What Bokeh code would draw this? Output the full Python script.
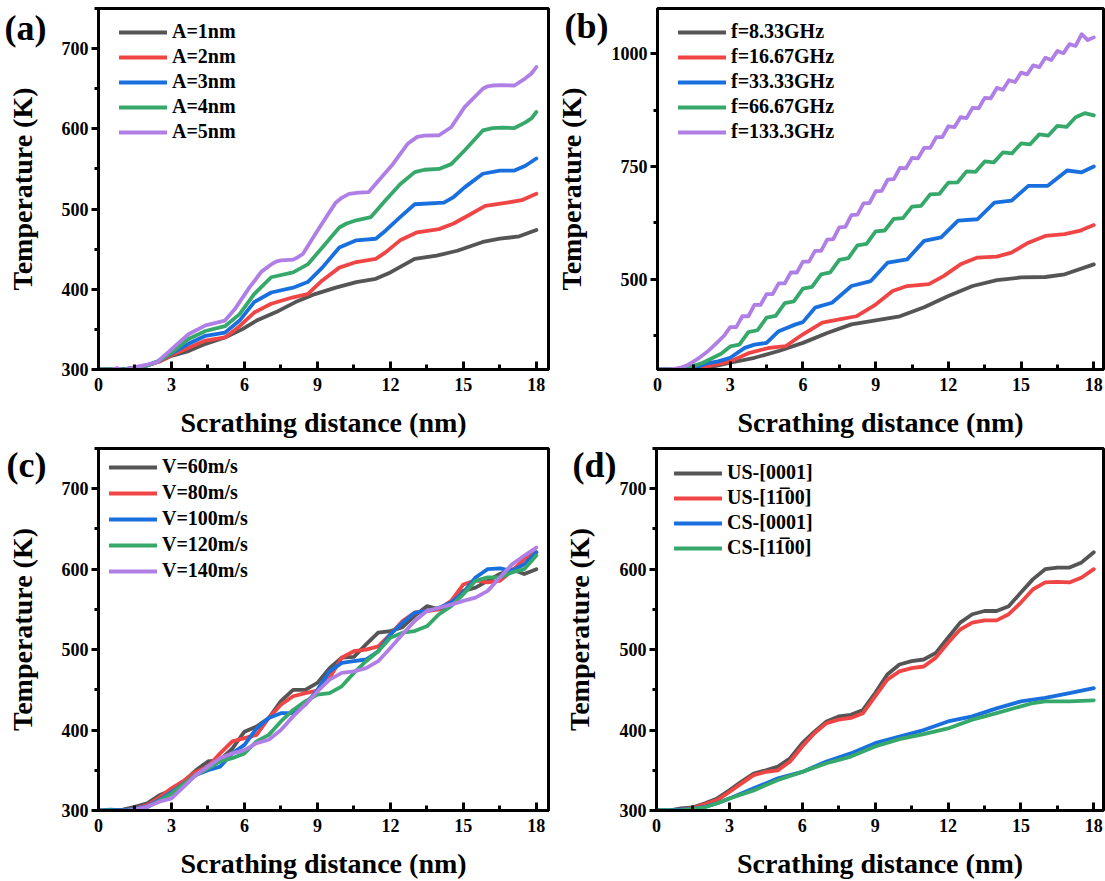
from bokeh.plotting import figure
from bokeh.models import (Range1d, SingleIntervalTicker, FixedTicker, LinearAxis,
                          Legend, LegendItem)
from bokeh.layouts import column, row
from bokeh.embed import file_html
from bokeh.resources import INLINE

FONT = "Liberation Serif"
COLORS = ["#555555", "#f04545", "#1a6fdf", "#36a86a", "#b07fe6"]

X_TITLE = "Scrathing distance (nm)"
Y_TITLE = "Temperature (K)"
TAGS = ["(a)", "(b)", "(c)", "(d)"]

# ---------------- panel (a) ----------------
a_labels = ["A=1nm", "A=2nm", "A=3nm", "A=4nm", "A=5nm"]
a1_x = [0, 1, 1.5, 2, 2.5, 3, 3.7, 4.4, 5.2, 5.9, 6.5, 7.4, 8.1, 8.9, 9.75, 10.6, 11.4, 12.0, 13.0, 13.9, 14.75, 15.8, 16.5, 17.3, 18]
a1_y = [300, 300, 302, 305, 310, 317, 323, 332, 340, 350, 361, 373, 384, 394, 402, 409, 413, 421, 438, 442, 448, 459, 463, 466, 474]
a2_x = [0, 1, 1.5, 2, 2.5, 3, 3.7, 4.4, 5.2, 5.8, 6.4, 7.1, 8.0, 8.6, 9.2, 9.9, 10.6, 11.4, 11.8, 12.4, 13.1, 14.0, 14.6, 15.2, 15.9, 16.8, 17.4, 18]
a2_y = [300, 300, 302, 305, 310, 318, 327, 336, 340, 354, 371, 382, 390, 394, 411, 427, 434, 438, 446, 461, 471, 475, 482, 492, 504, 508, 511, 519]
a3_x = [0, 1, 1.5, 2, 2.5, 3, 3.7, 4.4, 5.2, 5.8, 6.4, 7.1, 8.0, 8.6, 9.2, 9.9, 10.6, 11.4, 11.8, 12.4, 13.0, 14.2, 14.6, 15.05, 15.8, 16.5, 17.1, 17.55, 18]
a3_y = [300, 300, 302, 305, 311, 320, 332, 342, 346, 361, 384, 396, 402, 409, 427, 452, 461, 463, 473, 490, 506, 508, 515, 527, 544, 548, 548, 554, 563]
a4_x = [0, 1, 1.5, 2, 2.5, 3, 3.7, 4.4, 5.2, 5.8, 6.4, 7.1, 8.0, 8.6, 9.2, 9.9, 10.2, 10.6, 11.2, 11.8, 12.4, 13.0, 13.4, 14.0, 14.5, 15.05, 15.8, 16.2, 16.6, 17.1, 17.55, 17.8, 18]
a4_y = [300, 300, 302, 305, 311, 321, 338, 348, 354, 369, 394, 415, 421, 431, 452, 477, 482, 486, 490, 511, 531, 546, 549, 550, 556, 573, 598, 601, 601.5, 601, 608, 613, 621]
a5_x = [0, 0.5, 0.75, 1.0, 1.5, 2.0, 2.4, 3.0, 3.4, 3.7, 4.4, 5.2, 5.6, 6.2, 6.7, 7.1, 7.3, 7.5, 8.0, 8.2, 8.4, 9.0, 9.75, 10.0, 10.3,
        10.7, 11.1, 11.5, 12.1, 12.7, 13.1, 13.4, 14.0, 14.5, 15.05, 15.8, 16.0, 16.2, 16.6, 17.1, 17.55, 17.8, 18]
a5_y = [300, 299, 302, 299, 303, 306, 309, 325, 336, 344, 355, 361, 375, 402, 422, 431, 434.5, 436, 437, 440, 444, 473, 508, 514, 519,
        520.5, 521, 535, 556, 581, 590, 591.5, 592, 602, 627, 650, 653, 654, 654.5, 654, 663, 669, 677]

# ---------------- panel (b) ----------------
b_labels = ["f=8.33GHz", "f=16.67GHz", "f=33.33GHz", "f=66.67GHz", "f=133.3GHz"]
b1_x = [0, 1, 2, 3, 4, 5, 6, 7, 8, 9, 10, 11, 12, 13, 14, 15, 16, 16.8, 18]
b1_y = [300, 300, 303, 315, 326, 341, 359, 381, 400, 409, 418, 438, 463, 485, 498, 504, 505, 511, 533]
b2_x = [0, 1, 1.5, 2, 2.5, 3, 3.8, 4.6, 5.3, 6, 6.8, 7.5, 8.2, 9, 9.7, 10.3, 11.2, 11.8, 12.5, 13.2, 14, 14.6, 15.3, 16, 16.8, 17.4, 18]
b2_y = [300, 300, 301, 307, 312, 318, 337, 348, 352, 378, 404, 411, 418, 444, 474, 485, 489, 507, 533, 548, 550, 559, 581, 596, 600, 607, 620]
b3_x = [0, 1, 1.5, 2, 2.5, 3, 3.6, 4, 4.5, 5, 5.7, 6, 6.5, 7.2, 8, 8.8, 9.5, 10.3, 11, 11.7, 12.4, 13.2, 13.9, 14.6, 15.3, 16.1, 16.9, 17.5, 18]
b3_y = [300, 300, 303, 313, 318, 326, 348, 355, 359, 385, 400, 405, 437, 448, 485, 496, 537, 544, 585, 593, 630, 633, 670, 674, 707, 707, 741, 737, 750]
b4_x = [i * 0.375 for i in range(49)]
b4_y = [300, 300, 301, 304, 308, 315, 325, 335,
        351, 355, 383, 387, 415, 419, 447, 451, 479, 483,
        511, 515, 543, 547, 575, 578.5, 606, 608, 634, 635.5,
        661, 662.5, 688, 689, 714, 714.5, 739, 738, 761, 759,
        781, 779, 801, 799, 821, 818.5, 840, 837.5, 859, 868, 863]
b5_x = [i * 0.25 for i in range(73)]
b5_y = [300, 300, 300, 302, 305, 310, 318, 327, 337, 349, 362, 375,
        394, 394, 418, 418, 443, 443, 467, 467, 491, 491, 515, 515,
        539, 539, 563, 563, 588, 589, 615, 616, 642, 643, 668, 669,
        695, 696, 721, 722, 747, 746, 769, 768, 791, 791, 815, 815,
        839, 837, 859, 857, 880, 879, 902, 901, 924, 920, 941, 937,
        958, 954, 974, 970, 991, 986, 1006, 1001, 1021, 1017, 1043, 1030, 1036]

# ---------------- panel (c) ----------------
c_labels = ["V=60m/s", "V=80m/s", "V=100m/s", "V=120m/s", "V=140m/s"]
c_x = [i * 0.5 for i in range(37)]
c1_y = [300, 300, 301, 304.6, 309, 319, 325, 336, 350, 361, 363, 377, 398, 404.5, 415, 436, 450, 450, 458.6, 477,
        490, 491, 506.5, 521, 523, 528, 542, 554, 550, 556, 573, 577, 585.5, 594, 600, 594, 600]
c2_y = [300, 300, 300, 302, 306.7, 316, 327.5, 337, 348, 354.5, 371, 386, 390, 394, 415, 431.5, 442, 446, 449, 465,
        490, 498, 500, 504, 519, 535.6, 546, 548, 550, 560.6, 581, 586, 583.5, 585.5, 598, 612.6, 621]
c3_y = [300, 301, 300, 302, 305, 313, 323, 333, 344, 350, 354.5, 371, 381.6, 402, 415, 421, 421, 431.5, 450, 473,
        483.5, 485.6, 487.7, 498, 519, 533.5, 546, 548, 552, 558.5, 571, 589.7, 600, 601, 598, 606, 621]
c4_y = [300, 300, 299, 301, 304, 312, 321, 333, 344, 352, 361, 365, 371, 386, 394, 410.7, 425, 435.7, 444, 446,
        454.4, 471, 485.6, 498, 514.8, 521, 523, 529, 544, 554, 569, 585.5, 589.7, 589.7, 596, 600, 617]
c5_y = [300, 299, 299, 301, 304.6, 311, 315, 329.5, 344, 354.5, 365, 371, 375, 383.7, 388, 400, 417, 431.5, 448, 462.7,
        471, 473, 477, 485.6, 502, 519, 535.6, 548, 552, 556, 560.6, 564.7, 573, 589.7, 606, 616.7, 627]

# ---------------- panel (d) ----------------
d_labels = ["US-[0001]", "US-[11\u030500]", "CS-[0001]", "CS-[11\u030500]"]
d_x = [i * 0.5 for i in range(37)]
d1_y = [300, 300, 302.5, 304, 309, 315, 325, 336, 346, 350, 354.5, 365, 383.7, 398, 410.7, 417, 419, 425, 446, 469,
        481.5, 485.6, 487.7, 496, 514.8, 533.5, 544, 548, 548, 554, 571, 587.6, 600, 602, 602, 608.4, 621]
d2_y = [300, 299, 301, 303, 308, 313, 323, 333.7, 344, 348, 350, 361, 379.5, 396, 408.6, 413, 415, 421, 442, 462.7,
        473, 477, 479, 490, 508.5, 525, 533.5, 536.4, 536.4, 544, 558.5, 575, 583.5, 584.3, 583.5, 589.7, 600]
d3_x = [0, 0.5, 1, 1.5, 2, 2.5, 3, 4, 5, 6, 7, 8, 9, 10, 11, 12, 13, 14, 15, 16, 17, 18]
d3_y = [300, 300, 301, 302, 304.6, 309, 315, 327.5, 340, 348, 361, 371, 383.7, 392, 400, 410.7, 417, 427, 435.7, 440, 446, 452]
d4_x = [0, 0.5, 1, 1.5, 2, 2.5, 3, 4, 5, 6, 7, 8, 9, 10, 11, 12, 13, 14, 15, 15.5, 16, 17, 18]
d4_y = [300, 300, 300, 302, 304, 309, 315, 325, 338, 348, 358.7, 367, 379.5, 388.7, 395, 402, 413, 421, 429.5, 433.6, 435.7, 435.7, 437]


def style_text_axis(ax):
    ax.axis_label_text_font = FONT
    ax.axis_label_text_font_size = "28px"
    ax.axis_label_text_font_style = "bold"
    ax.axis_label_text_color = "black"
    ax.major_label_text_color = "black"


def make_panel(width, height, bl, br, bt, bb, xmax, ymax, yint, series, labels,
               leg_xy, leg_spacing, tag, tag_y, tag_standoff, title_standoff):
    p = figure(width=width, height=height, output_backend="svg", toolbar_location=None,
               x_range=Range1d(0, xmax), y_range=Range1d(300, ymax),
               min_border_left=bl, min_border_right=br, min_border_top=bt, min_border_bottom=bb)
    p.grid.visible = False
    p.background_fill_color = "white"
    p.border_fill_color = "white"
    p.outline_line_color = "black"
    p.outline_line_width = 3
    p.outline_line_alpha = 1

    xa = p.xaxis[0]
    xa.ticker = SingleIntervalTicker(interval=3, num_minor_ticks=2)
    ya = p.yaxis[0]
    ya.ticker = SingleIntervalTicker(interval=yint, num_minor_ticks=2)
    xa.axis_label = X_TITLE
    for ax in (xa, ya):
        style_text_axis(ax)
        ax.major_label_text_font = FONT
        ax.major_label_text_font_size = "18px"
        ax.major_label_text_font_style = "bold"
        ax.axis_line_width = 3
        ax.axis_line_color = "black"
        ax.major_tick_line_width = 3
        ax.minor_tick_line_width = 3
        ax.major_tick_line_color = "black"
        ax.minor_tick_line_color = "black"
    xa.major_tick_in = 8
    xa.major_tick_out = 0
    xa.minor_tick_in = 5
    xa.minor_tick_out = 0
    xa.major_label_standoff = 8
    xa.axis_label_standoff = 13
    ya.major_tick_in = 0
    ya.major_tick_out = 7
    ya.minor_tick_in = 0
    ya.minor_tick_out = 4
    ya.major_label_standoff = 3

    # outer left axis: carries the panel tag (one fixed tick) and the y title
    tag_axis = LinearAxis(ticker=FixedTicker(ticks=[tag_y], minor_ticks=[]),
                          major_label_overrides={tag_y: tag},
                          axis_label=Y_TITLE)
    style_text_axis(tag_axis)
    tag_axis.major_label_text_font = FONT
    tag_axis.major_label_text_font_size = "36px"
    tag_axis.major_label_text_font_style = "bold"
    tag_axis.axis_line_color = None
    tag_axis.major_tick_line_color = None
    tag_axis.minor_tick_line_color = None
    tag_axis.major_tick_in = 0
    tag_axis.major_tick_out = 0
    tag_axis.minor_tick_in = 0
    tag_axis.minor_tick_out = 0
    tag_axis.major_label_standoff = tag_standoff
    tag_axis.axis_label_standoff = title_standoff
    p.add_layout(tag_axis, "left")

    items = []
    for (xs, ys), lab, col in zip(series, labels, COLORS):
        r = p.line(xs, ys, line_color=col, line_width=3.8, line_join="round", line_cap="round")
        items.append(LegendItem(label=lab, renderers=[r]))
    leg = Legend(items=items, location=leg_xy, padding=0, margin=0, spacing=leg_spacing,
                 glyph_width=48, glyph_height=22, label_height=22, label_standoff=5,
                 label_text_font=FONT, label_text_font_size="20px", label_text_font_style="bold",
                 label_text_color="black", background_fill_alpha=0, border_line_alpha=0)
    p.add_layout(leg)
    return p


pa = make_panel(552, 440, 98, 4, 8, 70, 18.5, 750, 100,
                [(a1_x, a1_y), (a2_x, a2_y), (a3_x, a3_y), (a4_x, a4_y), (a5_x, a5_y)],
                a_labels, (21, 226), 2, TAGS[0], 726, 12, -36)
pb = make_panel(553, 440, 104, 2, 8, 70, 18.4, 1100, 250,
                [(b1_x, b1_y), (b2_x, b2_y), (b3_x, b3_y), (b4_x, b4_y), (b5_x, b5_y)],
                b_labels, (21, 226), 2, TAGS[1], 1062, 0, -25)
pc = make_panel(552, 441, 98, 4, 8, 71, 18.5, 750, 100,
                [(c_x, c1_y), (c_x, c2_y), (c_x, c3_y), (c_x, c4_y), (c_x, c5_y)],
                c_labels, (11, 228), 3, TAGS[2], 730, 12, -34)
pd = make_panel(553, 441, 104, 2, 8, 71, 18.4, 750, 100,
                [(d_x, d1_y), (d_x, d2_y), (d3_x, d3_y), (d4_x, d4_y)],
                d_labels, (18, 251), 2, TAGS[3], 730, 0, -25)

layout = column(row(pa, pb), row(pc, pd))
open("out.html", "w").write(file_html(layout, INLINE))
